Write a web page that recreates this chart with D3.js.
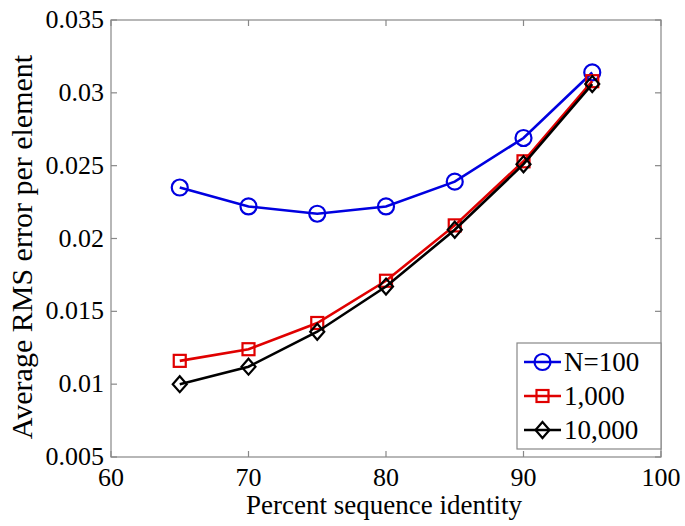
<!DOCTYPE html>
<html>
<head>
<meta charset="utf-8">
<script src="https://cdn.jsdelivr.net/npm/d3@7"></script>
<style>
  body { margin: 0; background: #fff; }
  text { font-family: "Liberation Serif", "Times New Roman", serif; fill: #000; }
</style>
</head>
<body>
<svg id="chart" width="685" height="526"></svg>
<script>
const identity = [65, 70, 75, 80, 85, 90, 95];
const n100 = [0.0235, 0.0222, 0.0217, 0.0222, 0.0239, 0.0269, 0.0314];
const n1000 = [0.0116, 0.0124, 0.0142, 0.0171, 0.0209, 0.0253, 0.0308];
const n10000 = [0.0100, 0.0112, 0.0136, 0.0167, 0.0206, 0.0251, 0.0306];
const xTicks = [60, 70, 80, 90, 100];
const yTicks = [0.005, 0.01, 0.015, 0.02, 0.025, 0.03, 0.035];
const seriesNames = ["N=100", "1,000", "10,000"];

const svg = d3.select("#chart");
const pLeft = 111, pRight = 661, pTop = 20, pBottom = 457;

const x = d3.scaleLinear().domain([60, 100]).range([pLeft, pRight]);
const y = d3.scaleLinear().domain([0.005, 0.035]).range([pBottom, pTop]);

const axisColor = "#888";
const tickLen = 6;

// box + mirrored ticks
svg.append("rect")
  .attr("x", pLeft).attr("y", pTop)
  .attr("width", pRight - pLeft).attr("height", pBottom - pTop)
  .attr("fill", "none").attr("stroke", axisColor).attr("stroke-width", 1.2);

const g = svg.append("g").attr("stroke", axisColor).attr("stroke-width", 1.2);
xTicks.forEach(t => {
  g.append("line").attr("x1", x(t)).attr("x2", x(t)).attr("y1", pBottom).attr("y2", pBottom - tickLen);
  g.append("line").attr("x1", x(t)).attr("x2", x(t)).attr("y1", pTop).attr("y2", pTop + tickLen);
});
yTicks.forEach(t => {
  g.append("line").attr("y1", y(t)).attr("y2", y(t)).attr("x1", pLeft).attr("x2", pLeft + tickLen);
  g.append("line").attr("y1", y(t)).attr("y2", y(t)).attr("x1", pRight).attr("x2", pRight - tickLen);
});

svg.selectAll("text.xt")
  .data(xTicks)
  .enter()
  .append("text")
  .attr("class", "xt")
  .attr("x", d => x(d))
  .attr("y", pBottom + 29)
  .attr("text-anchor", "middle")
  .style("font-size", "26px")
  .text(d => d);

svg.selectAll("text.yt")
  .data(yTicks)
  .enter()
  .append("text")
  .attr("class", "yt")
  .attr("x", pLeft - 7)
  .attr("y", d => y(d) + 8)
  .attr("text-anchor", "end")
  .style("font-size", "26px")
  .text(d => d);

svg.append("text")
  .attr("x", 384)
  .attr("y", 514)
  .attr("text-anchor", "middle")
  .style("font-size", "27px")
  .text("Percent sequence identity");

svg.append("text")
  .attr("transform", `translate(32, 247) rotate(-90)`)
  .attr("text-anchor", "middle")
  .style("font-size", "30px")
  .text("Average RMS error per element");

const series = [
  { name: seriesNames[0], values: n100, color: "#0000e0", marker: "circle" },
  { name: seriesNames[1], values: n1000, color: "#e00000", marker: "square" },
  { name: seriesNames[2], values: n10000, color: "#000000", marker: "diamond" }
];

const line = d3.line().x((d, i) => x(identity[i])).y(d => y(d));

function drawMarker(sel, kind, color) {
  if (kind === "circle") {
    sel.append("circle").attr("r", 8);
  } else if (kind === "square") {
    sel.append("rect").attr("x", -6).attr("y", -6).attr("width", 12).attr("height", 12);
  } else {
    sel.append("path").attr("d", "M0,-8L7,0L0,8L-7,0Z");
  }
  sel.selectAll("*").attr("fill", "none").attr("stroke", color).attr("stroke-width", 2.2);
}

series.forEach(s => {
  svg.append("path")
    .datum(s.values)
    .attr("d", line)
    .attr("fill", "none")
    .attr("stroke", s.color)
    .attr("stroke-width", 2.6);
  s.values.forEach((v, i) => {
    const m = svg.append("g").attr("transform", `translate(${x(identity[i])},${y(v)})`);
    drawMarker(m, s.marker, s.color);
  });
});

// legend
const lg = svg.append("g");
lg.append("rect")
  .attr("x", 517).attr("y", 343).attr("width", 144).attr("height", 106)
  .attr("fill", "#fff").attr("stroke", axisColor).attr("stroke-width", 1.2);
series.forEach((s, i) => {
  const cy = 362 + i * 34;
  lg.append("line").attr("x1", 524).attr("x2", 561).attr("y1", cy).attr("y2", cy)
    .attr("stroke", s.color).attr("stroke-width", 2.6);
  const m = lg.append("g").attr("transform", `translate(542.5,${cy})`);
  drawMarker(m, s.marker, s.color);
  lg.append("text").attr("x", 564).attr("y", cy + 9)
    .style("font-size", "27px").text(s.name);
});
</script>
</body>
</html>
